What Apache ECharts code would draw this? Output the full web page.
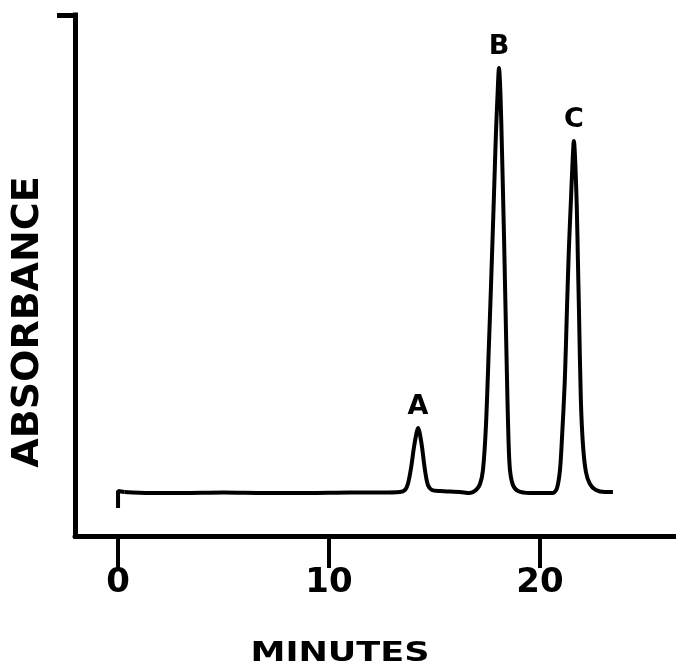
<!DOCTYPE html>
<html>
<head>
<meta charset="utf-8">
<script src="https://cdn.jsdelivr.net/npm/echarts@6/dist/echarts.min.js"></script>
<style>
html,body{margin:0;padding:0;background:#fff;}
#chart{width:676px;height:672px;}
</style>
</head>
<body>
<div id="chart"></div>
<script>
// Time (minutes) and absorbance (arbitrary units)
var startHook = [[0, 28], [0, 45], [0.3, 44]];
var traceTime = [0.3, 1.5, 3, 5, 7, 9, 11, 12.5, 13.36, 13.60, 13.74, 13.89, 14.03, 14.15, 14.22, 14.29, 14.41, 14.55, 14.69, 14.88, 15.26, 16.21, 16.68, 16.97, 17.16, 17.30, 17.44, 17.58, 17.68, 17.82, 17.91, 17.99, 18.06, 18.13, 18.20, 18.29, 18.36, 18.44, 18.51, 18.58, 18.72, 18.96, 19.53, 20.24, 20.62, 20.81, 20.95, 21.04, 21.18, 21.28, 21.37, 21.47, 21.54, 21.61, 21.68, 21.75, 21.80, 21.85, 21.94, 22.04, 22.18, 22.37, 22.65, 23.08, 23.46];
var traceValue = [44, 43, 43, 43.5, 43, 43, 43.5, 43.5, 44, 46, 52, 68, 89, 103, 108, 104, 89, 66, 51, 46, 45, 44, 43, 46, 52, 66, 110, 190, 250, 340, 400, 441, 468, 441, 386, 306, 236, 156, 96, 66, 51, 45, 43, 43, 43, 48, 66, 96, 156, 226, 286, 336, 371, 395, 371, 326, 276, 226, 136, 91, 64, 52, 46, 44, 44];
var peakNames = ['A', 'B', 'C'];
var peakTimes = [14.22, 18.06, 21.61];
var peakValues = [108, 468, 395];
var xTicks = [0, 10, 20];
var xLabel = 'MINUTES';
var yLabel = 'ABSORBANCE';

var chart = echarts.init(document.getElementById('chart'));
var trace = traceTime.map(function (t, i) { return [t, traceValue[i]]; });
var peaks = peakNames.map(function (n, i) { return { name: n, value: [peakTimes[i], peakValues[i]] }; });
var FONT = '"DejaVu Sans", sans-serif';

chart.setOption({
  animation: false,
  backgroundColor: '#fff',
  grid: { left: 75, right: 0, top: 15, bottom: 136 },
  xAxis: {
    type: 'value',
    min: -2.04,
    max: 26.45,
    splitLine: { show: false },
    axisLine: { show: true, onZero: false, lineStyle: { color: '#000', width: 5 } },
    axisTick: { show: true, customValues: xTicks, length: 32, lineStyle: { color: '#000', width: 4 } },
    axisLabel: { show: true, customValues: xTicks, margin: 30, color: '#000', fontFamily: FONT, fontWeight: 'bold', fontSize: 34 }
  },
  yAxis: {
    type: 'value',
    min: 0,
    max: 521,
    splitLine: { show: false },
    axisLine: { show: true, onZero: false, lineStyle: { color: '#000', width: 5, cap: 'square' } },
    axisTick: { show: true, customValues: [521], length: 18, lineStyle: { color: '#000', width: 5 } },
    axisLabel: { show: false }
  },
  graphic: [
    { type: 'text', x: 340, y: 654, scaleX: 1.3, style: { text: xLabel, fill: '#000', font: 'bold 27px "DejaVu Sans", sans-serif', align: 'center', verticalAlign: 'middle' } },
    { type: 'text', x: 28, y: 322, rotation: Math.PI / 2, style: { text: yLabel, fill: '#000', font: 'bold 38px "DejaVu Sans", sans-serif', align: 'center', verticalAlign: 'middle' } }
  ],
  series: [
    { type: 'line', data: startHook, symbol: 'none', lineStyle: { color: '#000', width: 4 } },
    { type: 'line', data: trace, symbol: 'none', smooth: 0.3, lineStyle: { color: '#000', width: 4, join: 'round' } },
    {
      type: 'scatter', data: peaks, symbolSize: 0, itemStyle: { opacity: 1 },
      label: { show: true, position: 'top', distance: 8, formatter: '{b}', color: '#000', fontFamily: FONT, fontWeight: 'bold', fontSize: 27 }
    }
  ]
});
</script>
</body>
</html>
